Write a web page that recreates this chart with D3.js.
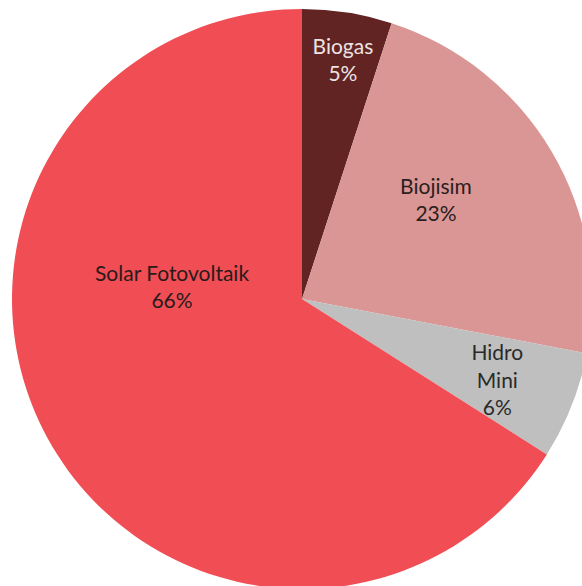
<!DOCTYPE html>
<html>
<head>
<meta charset="utf-8">
<script src="https://cdn.jsdelivr.net/npm/d3@7"></script>
<style>
  html, body { margin: 0; padding: 0; background: #fff; overflow: hidden; }
  svg { display: block; }
  text { font-family: Lato, "Open Sans", sans-serif; font-size: 21px; }
</style>
</head>
<body>
<script>
// Renewable energy sources, share of total
const categories = ["Biogas", "Biojisim", "Hidro Mini", "Solar Fotovoltaik"];
const shares = [5, 23, 6, 66];
const labelLines = [["Biogas"], ["Biojisim"], ["Hidro", "Mini"], ["Solar Fotovoltaik"]];
const colors = ["#622423", "#DA9694", "#BFBFBF", "#F04E54"];
const textColors = ["#EDE3E3", "#2a2020", "#2a2a2a", "#2a1a1a"];

const width = 582, height = 586;
const cx = 302, cy = 299, radius = 290;

const svg = d3.select("body").append("svg")
  .attr("width", width).attr("height", height);

const pie = d3.pie().sort(null).value(d => d.value);
const arcs = pie(categories.map((c, i) => ({ name: c, value: shares[i], i })));

const arc = d3.arc().innerRadius(0).outerRadius(radius);
// label anchor per slice: fraction along the slice's sweep, and depth as a share of the radius
const labelSweep = [0.54, 0.43, 0.55, 0.643];
const labelDepth = [0.836, 0.574, 0.73, 0.45];

const g = svg.append("g").attr("transform", `translate(${cx},${cy})`);

g.selectAll("path").data(arcs).join("path")
  .attr("d", arc)
  .attr("fill", d => colors[d.data.i]);

const lineH = 27.5;
const labels = g.selectAll("g.label").data(arcs).join("g")
  .attr("class", "label")
  .attr("transform", d => {
    const a = d.startAngle + (d.endAngle - d.startAngle) * labelSweep[d.data.i];
    const r = radius * labelDepth[d.data.i];
    return `translate(${Math.sin(a) * r},${-Math.cos(a) * r})`;
  });

labels.each(function(d) {
  const lines = labelLines[d.data.i].concat([d.data.value + "%"]);
  const t = d3.select(this).append("text")
    .attr("text-anchor", "middle")
    .attr("fill", textColors[d.data.i]);
  const top = -(lines.length - 1) * lineH / 2;
  lines.forEach((s, k) => {
    t.append("tspan").attr("x", 0).attr("y", top + k * lineH).attr("dy", "0.35em").text(s);
  });
});
</script>
</body>
</html>
